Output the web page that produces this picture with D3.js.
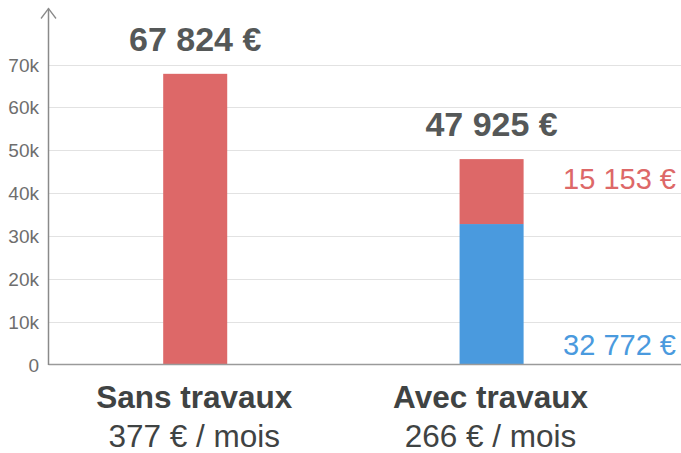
<!DOCTYPE html>
<html>
<head>
<meta charset="utf-8">
<script src="https://cdn.jsdelivr.net/npm/d3@7"></script>
<style>
  html, body { margin: 0; padding: 0; background: #fff; }
  svg { display: block; font-family: "Liberation Sans", Arial, Helvetica, sans-serif; }
</style>
</head>
<body>
<svg id="chart" width="681" height="453"></svg>
<script>
const categories = ["Sans travaux", "Avec travaux"];
const subLabels = ["377 € / mois", "266 € / mois"];
const blueValues = [0, 32772];
const redValues = [67824, 15153];
const totalLabels = ["67 824 €", "47 925 €"];
const redLabels = [null, "15 153 €"];
const blueLabels = [null, "32 772 €"];
const yTicks = [0, 10000, 20000, 30000, 40000, 50000, 60000, 70000];
const yTickLabels = ["0", "10k", "20k", "30k", "40k", "50k", "60k", "70k"];

const RED = "#dd6868";
const BLUE = "#4a9ade";

const svg = d3.select("#chart");
const W = 681;
const axisX = 48.5;

const x = d3.scaleBand().domain(categories).range([axisX, 638.3]).paddingInner(0.784).paddingOuter(0.387);
const y = d3.scaleLinear().domain([0, 70000]).range([364.5, 64.5]);

// gridlines
svg.append("g").selectAll("line").data(yTicks.slice(1)).join("line")
  .attr("x1", axisX).attr("x2", W)
  .attr("y1", d => Math.round(y(d)) + 0.5).attr("y2", d => Math.round(y(d)) + 0.5)
  .attr("stroke", "#e2e2e2").attr("stroke-width", 1);

// tick labels
svg.append("g").selectAll("text").data(yTicks).join("text")
  .attr("x", 39).attr("y", d => y(d) + 7)
  .attr("text-anchor", "end").attr("font-size", 19).attr("fill", "#6e6e6e")
  .text((d, i) => yTickLabels[i]);

// stacked data
const stackData = categories.map((c, i) => ({ cat: c, blue: blueValues[i], red: redValues[i] }));
const series = d3.stack().keys(["blue", "red"])(stackData);
const colors = { blue: BLUE, red: RED };

svg.append("g").selectAll("g").data(series).join("g")
  .attr("fill", s => colors[s.key])
  .selectAll("rect").data(s => s).join("rect")
  .attr("x", d => x(d.data.cat))
  .attr("width", x.bandwidth())
  .attr("y", d => y(d[1]))
  .attr("height", d => y(d[0]) - y(d[1]));

// axes lines
svg.append("line").attr("x1", axisX).attr("x2", W).attr("y1", y(0)).attr("y2", y(0))
  .attr("stroke", "#9a9a9a").attr("stroke-width", 1.5);
svg.append("line").attr("x1", axisX).attr("x2", axisX).attr("y1", y(0) + 0.5).attr("y2", 8.5)
  .attr("stroke", "#8a8a8a").attr("stroke-width", 1.5);
svg.append("path").attr("d", `M${axisX - 7.5},18.5 L${axisX},8.5 L${axisX + 7.5},18.5`)
  .attr("fill", "none").attr("stroke", "#8a8a8a").attr("stroke-width", 1.3);

// total labels
svg.append("g").selectAll("text").data(categories).join("text")
  .attr("x", d => x(d) + x.bandwidth() / 2)
  .attr("y", (d, i) => y(blueValues[i] + redValues[i]) - 23)
  .attr("text-anchor", "middle").attr("font-size", 34).attr("font-weight", "bold")
  .attr("fill", "#555858")
  .text((d, i) => totalLabels[i]);

// segment labels (right side)
svg.append("text")
  .attr("x", 676).attr("y", y(blueValues[1] + redValues[1]) + 30)
  .attr("text-anchor", "end").attr("font-size", 29).attr("fill", RED)
  .text(redLabels[1]);
svg.append("text")
  .attr("x", 676).attr("y", y(0) - 9.5)
  .attr("text-anchor", "end").attr("font-size", 29).attr("fill", BLUE)
  .text(blueLabels[1]);

// category labels
svg.append("g").selectAll("text").data(categories).join("text")
  .attr("x", d => x(d) + x.bandwidth() / 2 - 1)
  .attr("y", 407.5)
  .attr("text-anchor", "middle").attr("font-size", 31.5).attr("font-weight", "bold")
  .attr("fill", "#3f4343")
  .text(d => d);
svg.append("g").selectAll("text").data(categories).join("text")
  .attr("x", d => x(d) + x.bandwidth() / 2 - 1)
  .attr("y", 446.5)
  .attr("text-anchor", "middle").attr("font-size", 31.5)
  .attr("fill", "#3f4343")
  .text((d, i) => subLabels[i]);
</script>
</body>
</html>
